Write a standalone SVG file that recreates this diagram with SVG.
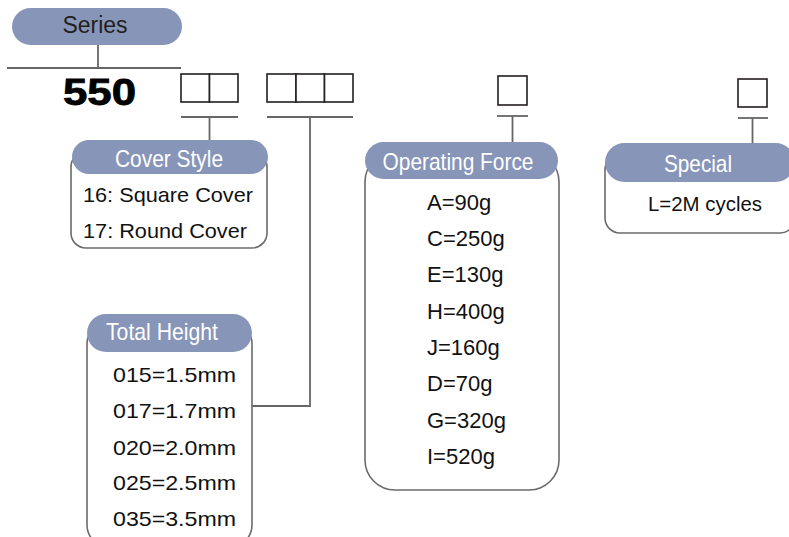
<svg xmlns="http://www.w3.org/2000/svg" width="789" height="537" viewBox="0 0 789 537">
<style>
.pill{fill:#8795b9;}
.box{fill:#ffffff;stroke:#6b6b6b;stroke-width:1.6;}
.cell{fill:#ffffff;stroke:#231f20;stroke-width:1.6;}
.ln{fill:none;stroke:#666666;stroke-width:1.8;}
.lab{font-family:"Liberation Sans",Arial,sans-serif;font-size:24px;fill:#ffffff;text-anchor:middle;}
.item{font-family:"Liberation Sans",Arial,sans-serif;font-size:21px;fill:#111111;}
.fitem{font-family:"Liberation Sans",Arial,sans-serif;font-size:22px;fill:#111111;}
</style>
<rect width="789" height="537" fill="#ffffff"/>
<g id="connectors">
<line class="ln" x1="98" y1="45" x2="98" y2="68"/>
<line class="ln" x1="7" y1="68" x2="181" y2="68"/>
<line class="ln" x1="181" y1="117" x2="238" y2="117"/>
<line class="ln" x1="209.5" y1="117" x2="209.5" y2="142"/>
<line class="ln" x1="267" y1="117" x2="353" y2="117"/>
<polyline class="ln" points="310,117 310,406 252,406"/>
<line class="ln" x1="497" y1="116" x2="528" y2="116"/>
<line class="ln" x1="512.5" y1="116" x2="512.5" y2="143"/>
<line class="ln" x1="738" y1="118" x2="768" y2="118"/>
<line class="ln" x1="752.5" y1="118" x2="752.5" y2="144"/>
</g>
<g id="series">
<rect class="pill" x="12" y="8" width="170" height="37" rx="18.5"/>
<text x="95" y="33" font-family="Liberation Sans,Arial,sans-serif" font-size="23" fill="#231f20" text-anchor="middle">Series</text>
</g>
<g id="code">
<text x="63" y="105" font-family="Liberation Sans,Arial,sans-serif" font-size="37" font-weight="bold" fill="#000000" stroke="#000000" stroke-width="0.8" textLength="73" lengthAdjust="spacingAndGlyphs">550</text>
</g>
<g id="cells-cover">
<rect class="cell" x="181" y="74" width="28.5" height="28"/>
<rect class="cell" x="209.5" y="74" width="28.5" height="28"/>
</g>
<g id="cells-height">
<rect class="cell" x="267" y="74" width="29" height="28"/>
<rect class="cell" x="296" y="74" width="28.5" height="28"/>
<rect class="cell" x="324.5" y="74" width="28.5" height="28"/>
</g>
<g id="cell-force">
<rect class="cell" x="498" y="76" width="29" height="29"/>
</g>
<g id="cell-special">
<rect class="cell" x="738" y="79" width="29" height="28"/>
</g>
<g id="cover-style">
<rect class="box" x="71" y="152" width="196" height="96" rx="15"/>
<rect class="pill" x="72" y="140" width="196" height="34" rx="17"/>
<text class="lab" x="169" y="167" textLength="108" lengthAdjust="spacingAndGlyphs">Cover Style</text>
<text class="item" x="83" y="202" textLength="170" lengthAdjust="spacingAndGlyphs">16: Square Cover</text>
<text class="item" x="83" y="238" textLength="164" lengthAdjust="spacingAndGlyphs">17: Round Cover</text>
</g>
<g id="operating-force">
<rect class="box" x="365" y="152" width="194" height="338" rx="30"/>
<rect class="pill" x="365" y="142" width="193" height="37" rx="18.5"/>
<text class="lab" x="458" y="170" textLength="151" lengthAdjust="spacingAndGlyphs">Operating Force</text>
<text class="fitem" x="427" y="210">A=90g</text>
<text class="fitem" x="427" y="246">C=250g</text>
<text class="fitem" x="427" y="282">E=130g</text>
<text class="fitem" x="427" y="319">H=400g</text>
<text class="fitem" x="427" y="355">J=160g</text>
<text class="fitem" x="427" y="391">D=70g</text>
<text class="fitem" x="427" y="428">G=320g</text>
<text class="fitem" x="427" y="464">I=520g</text>
</g>
<g id="special">
<rect class="box" x="605" y="155" width="190" height="78" rx="15"/>
<rect class="pill" x="605" y="143" width="190" height="39" rx="19.5"/>
<text class="lab" x="698" y="172" textLength="68" lengthAdjust="spacingAndGlyphs">Special</text>
<text class="item" x="648" y="211" textLength="114" lengthAdjust="spacingAndGlyphs">L=2M cycles</text>
</g>
<g id="total-height">
<rect class="box" x="87" y="322" width="165" height="225" rx="22"/>
<rect class="pill" x="87" y="314" width="165" height="38" rx="19"/>
<text class="lab" x="162" y="340" textLength="112" lengthAdjust="spacingAndGlyphs">Total Height</text>
<text class="item" x="113" y="382" textLength="123" lengthAdjust="spacingAndGlyphs">015=1.5mm</text>
<text class="item" x="113" y="418" textLength="123" lengthAdjust="spacingAndGlyphs">017=1.7mm</text>
<text class="item" x="113" y="455" textLength="123" lengthAdjust="spacingAndGlyphs">020=2.0mm</text>
<text class="item" x="113" y="490" textLength="123" lengthAdjust="spacingAndGlyphs">025=2.5mm</text>
<text class="item" x="113" y="526" textLength="123" lengthAdjust="spacingAndGlyphs">035=3.5mm</text>
</g>
</svg>
